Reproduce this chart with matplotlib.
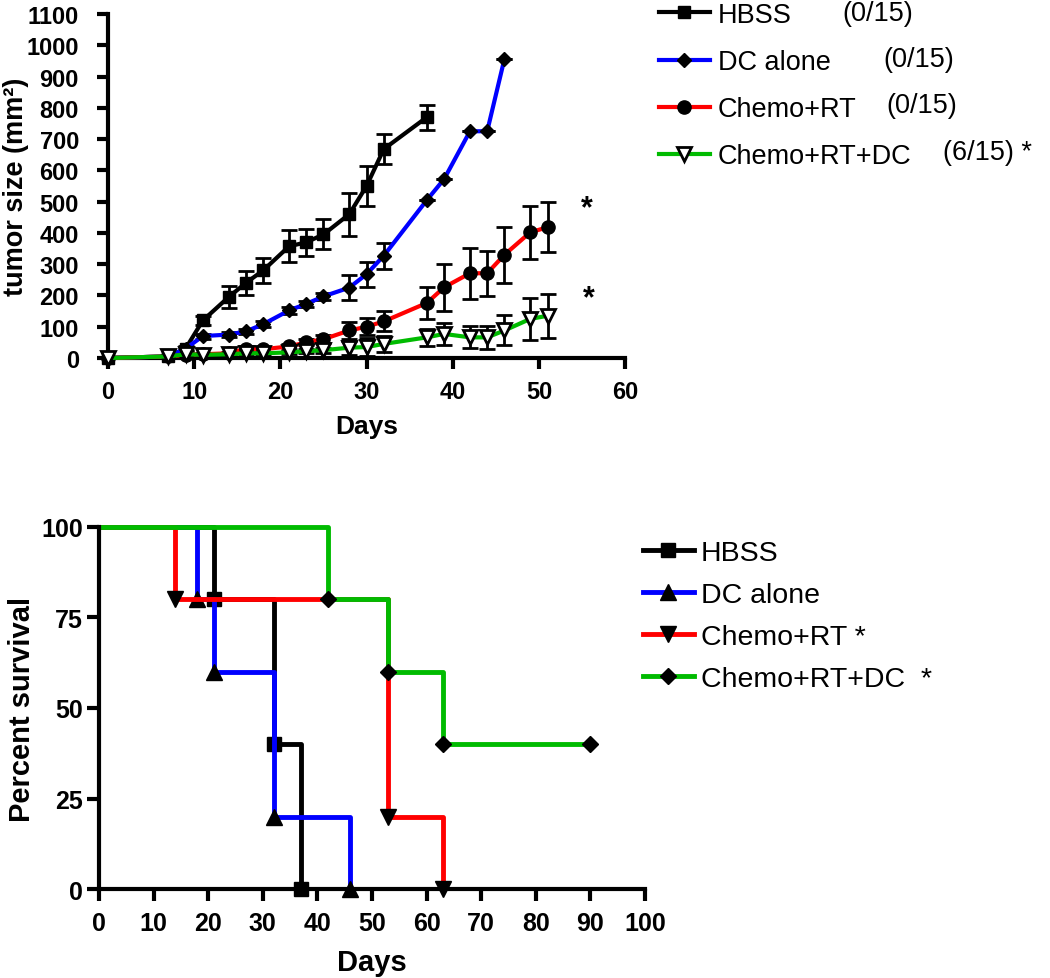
import matplotlib
matplotlib.use("Agg")
import matplotlib.pyplot as plt

plt.rcParams['font.family'] = ['Liberation Sans', 'DejaVu Sans']

# ---- tumor growth data (mean, error) ----
days_hbss = [0, 7, 9, 11, 14, 16, 18, 21, 23, 25, 28, 30, 32, 37]
hbss_mean = [0, 5, 30, 120, 195, 240, 280, 357, 370, 395, 460, 550, 668, 770]
hbss_err = [0, 3, 8, 15, 34, 39, 39, 51, 43, 48, 69, 64, 47, 40]

days_dc = [0, 7, 9, 11, 14, 16, 18, 21, 23, 25, 28, 30, 32, 37, 39, 42, 44, 46]
dc_mean = [0, 5, 30, 70, 75, 85, 108, 152, 173, 197, 225, 268, 327, 505, 572, 725, 725, 956]
dc_err = [0, 2, 5, 8, 8, 8, 10, 10, 10, 10, 41, 40, 42, 0, 0, 0, 0, 0]

days_crt = [0, 7, 9, 11, 14, 16, 18, 21, 23, 25, 28, 30, 32, 37, 39, 42, 44, 46, 49, 51]
crt_mean = [0, 5, 10, 12, 15, 30, 28, 37, 50, 60, 88, 100, 117, 176, 226, 271, 271, 330, 402, 418]
crt_err = [0, 2, 3, 3, 5, 8, 8, 8, 10, 12, 28, 27, 32, 52, 76, 82, 72, 90, 85, 80]

days_crtdc = [0, 7, 9, 11, 14, 16, 18, 21, 23, 25, 28, 30, 32, 37, 39, 42, 44, 46, 49, 51]
crtdc_mean = [0, 5, 12, 10, 12, 15, 15, 18, 22, 25, 33, 35, 45, 66, 77, 66, 66, 88, 125, 135]
crtdc_err = [0, 2, 3, 3, 4, 5, 5, 5, 6, 8, 22, 30, 25, 28, 35, 35, 37, 48, 68, 70]

groups = ["HBSS", "DC alone", "Chemo+RT", "Chemo+RT+DC"]
cure_counts = ["(0/15)", "(0/15)", "(0/15)", "(6/15) *"]
surv_labels = ["HBSS", "DC alone", "Chemo+RT *", "Chemo+RT+DC  *"]

# ---- survival data ----
hbss_t = [0, 21, 32, 37]
hbss_s = [100, 80, 40, 0]
dc_t = [0, 18, 21, 32, 46]
dc_s = [100, 80, 60, 20, 0]
crt_t = [0, 14, 53, 63]
crt_s = [100, 80, 20, 0]
crtdc_t = [0, 42, 53, 63, 90]
crtdc_s = [100, 80, 60, 40, 40]

colors = ["#000000", "#0000ff", "#ff0000", "#00bb00"]

fig = plt.figure(figsize=(10.5, 9.79), dpi=100)

# ================= top: tumor size =================
ax1 = fig.add_axes([0.1029, 0.6333, 0.4924, 0.3514])
top_series = [
    (days_hbss, hbss_mean, hbss_err, "s", 9, "black"),
    (days_dc, dc_mean, dc_err, "D", 7.5, "black"),
    (days_crt, crt_mean, crt_err, "o", 9.5, "black"),
    (days_crtdc, crtdc_mean, crtdc_err, "v", 10, "white"),
]
handles = []
for (x, y, e, m, ms, fc), c, lab in zip(top_series, colors, groups):
    ax1.errorbar(x, y, yerr=e, fmt="none", ecolor="black", elinewidth=2,
                 capsize=6, capthick=2, clip_on=False, zorder=2)
    h, = ax1.plot(x, y, color=c, lw=3, marker=m, ms=ms, mfc=fc, mec="black",
                  mew=2 if fc == "white" else 1, clip_on=False, zorder=3, label=lab)
    handles.append(h)

ax1.text(55.6, 480, "*", fontsize=22, fontweight="bold", ha="center", va="center")
ax1.text(55.8, 190, "*", fontsize=22, fontweight="bold", ha="center", va="center")

ax1.set_xlim(0, 60)
ax1.set_ylim(0, 1100)
ax1.set_xticks(range(0, 61, 10))
ax1.set_yticks(range(0, 1101, 100))
ax1.spines["top"].set_visible(False)
ax1.spines["right"].set_visible(False)
for s in ["left", "bottom"]:
    ax1.spines[s].set_linewidth(3)
ax1.tick_params(width=3, length=8, labelsize=17)
ax1.tick_params(axis="x", pad=8)
ax1.tick_params(axis="y", pad=13)
for lbl in ax1.get_xticklabels() + ax1.get_yticklabels():
    lbl.set_fontweight("bold")
ax1.set_xlabel("Days", fontsize=19, fontweight="bold", labelpad=8)
ax1.set_ylabel("tumor size (mm²)", fontsize=19.5, fontweight="bold")
ax1.yaxis.set_label_coords(-0.153, 0.5)

fig.legend(handles=handles, labels=groups, loc="upper left",
           bbox_to_anchor=(0.628, 0.997), frameon=False, fontsize=19.5,
           handlelength=1.85, handletextpad=0.3, labelspacing=0.78,
           borderpad=0, borderaxespad=0)
count_x = [842, 883, 886, 943]
count_y = [14, 60, 106, 153]
for cx, cy, txt in zip(count_x, count_y, cure_counts):
    fig.text(cx / 1050, 1 - cy / 979, txt, fontsize=19.5, va="center", ha="left")

# ================= bottom: survival =================
ax2 = fig.add_axes([0.0943, 0.0909, 0.52, 0.3698])
surv = [
    (hbss_t, hbss_s, "s", 10),
    (dc_t, dc_s, "^", 11),
    (crt_t, crt_s, "v", 11),
    (crtdc_t, crtdc_s, "D", 8.5),
]
shandles = []
for (t, s, m, ms), c, lab in zip(surv, colors, surv_labels):
    h, = ax2.plot(t, s, drawstyle="steps-post", color=c, lw=3.5, marker=m, ms=ms,
                  mfc="black", mec="black", markevery=list(range(1, len(t))),
                  clip_on=False, label=lab)
    shandles.append(h)

ax2.set_xlim(0, 100)
ax2.set_ylim(0, 100)
ax2.set_xticks(range(0, 101, 10))
ax2.set_yticks([0, 25, 50, 75, 100])
ax2.spines["top"].set_visible(False)
ax2.spines["right"].set_visible(False)
for s in ["left", "bottom"]:
    ax2.spines[s].set_linewidth(3)
ax2.tick_params(width=3, length=8.5, labelsize=18)
ax2.tick_params(axis="x", pad=7)
ax2.tick_params(axis="y", pad=3)
for lbl in ax2.get_xticklabels() + ax2.get_yticklabels():
    lbl.set_fontweight("bold")
ax2.set_xlabel("Days", fontsize=21, fontweight="bold", labelpad=10)
ax2.set_ylabel("Percent survival", fontsize=21, fontweight="bold")

fig.legend(handles=shandles, labels=surv_labels, loc="upper left",
           bbox_to_anchor=(0.612, 1 - 541 / 979), frameon=False, fontsize=20.5,
           handlelength=1.8, handletextpad=0.25, labelspacing=0.56,
           borderpad=0, borderaxespad=0)

fig.savefig("out.png", dpi=100)
